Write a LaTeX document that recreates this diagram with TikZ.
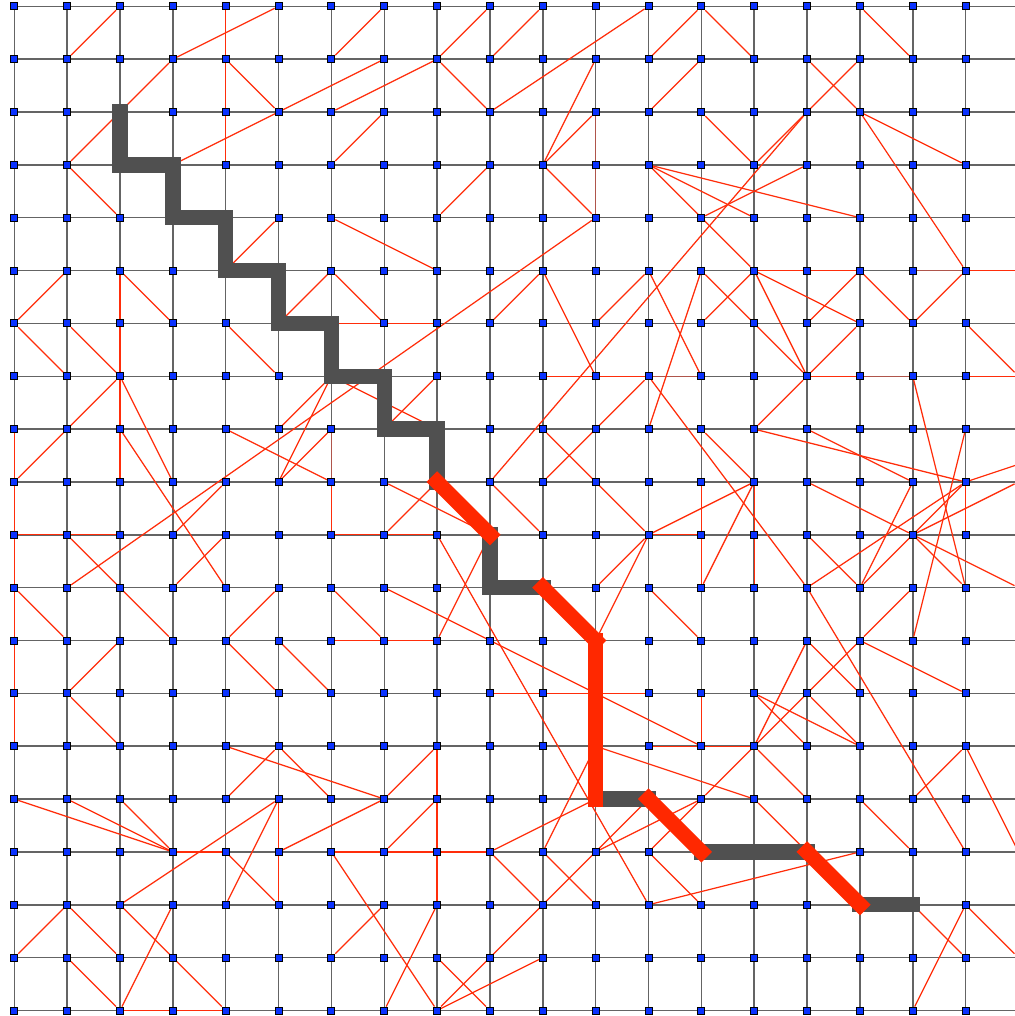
\documentclass[tikz,border=0pt]{standalone}
\definecolor{edgered}{RGB}{255,45,10}
\definecolor{faintred}{RGB}{175,85,75}
\definecolor{pathred}{RGB}{255,40,0}
\definecolor{pathgray}{RGB}{80,80,80}
\definecolor{gridgray}{RGB}{100,100,100}
\definecolor{nodeblue}{RGB}{10,50,255}
\pgfdeclarelayer{back}
\pgfdeclarelayer{edges}
\pgfdeclarelayer{top}
\pgfsetlayers{back,edges,main,top}
\tikzset{
  vtx/.style={rectangle, fill=nodeblue, draw=black, line width=0.45pt, minimum size=3.5pt, inner sep=0pt},
  gridline/.style={draw=gridgray, line width=0.75pt},
  redge/.style={draw=edgered, line width=0.62pt},
  fedge/.style={draw=faintred, line width=0.62pt},
  graypath/.style={draw=pathgray, line width=7.7pt, line cap=rect, line join=miter},
  redpath/.style={draw=pathred, line width=7.5pt, line cap=rect},
}
\begin{document}
\begin{tikzpicture}[x=0.5pt,y=-0.5pt]
\useasboundingbox (0,0) rectangle (1014,1016);
\begin{pgfonlayer}{back}
\fill[white] (0,0) rectangle (1014,1016);
\end{pgfonlayer}
% vertices
\foreach \i in {0,...,19}{
  \foreach \j in {0,...,19}{
    \node[vtx] (n-\i-\j) at ({14.3+52.85*\i},{6.3+52.85*\j}) {};
  }
}
\coordinate (far) at (1124.2,429.1);
\begin{pgfonlayer}{edges}
% grid
\foreach \j in {0,...,19}{
  \foreach \i [evaluate=\i as \ii using int(\i+1)] in {0,...,18}{
    \draw[gridline] (n-\i-\j) -- (n-\ii-\j);
  }
}
\foreach \i in {0,...,19}{
  \foreach \j [evaluate=\j as \jj using int(\j+1)] in {0,...,18}{
    \draw[gridline] (n-\i-\j) -- (n-\i-\jj);
  }
}
% faint edges
\foreach \pa/\pb/\pc/\pd in {11/2/11/4, 17/5/18/5, 16/7/17/7, 12/7/13/7, 6/8/6/9}{
  \draw[fedge] (n-\pa-\pb) -- (n-\pc-\pd);
}
% red edges
\foreach \pa/\pb/\pc/\pd in {
2/0/1/1, 4/0/4/3, 5/0/3/1, 3/1/1/3, 4/1/5/2, 3/3/7/1, 6/2/8/1, 6/1/7/0, 6/3/7/2, 1/3/2/4,
5/4/4/5, 6/4/8/5, 1/5/0/6, 2/5/2/9, 2/5/3/6, 5/6/6/5, 6/5/7/6, 6/6/8/6, 0/6/1/7, 1/6/2/7,
4/6/5/7, 8/1/9/0, 8/1/9/2, 9/1/10/0, 9/2/12/0, 12/1/13/0, 12/2/13/1, 11/1/10/3, 11/2/10/3, 10/3/11/4,
9/3/8/4, 12/3/16/4, 12/3/14/4, 12/3/14/5, 1/11/11/4, 9/6/10/5, 10/5/11/7, 11/6/12/5, 12/5/13/7, 15/2/9/9,
13/0/14/1, 13/2/14/3, 16/1/14/3, 16/0/17/1, 15/1/16/2, 16/2/18/3, 16/2/18/5, 13/4/15/3, 13/5/15/7, 14/5/13/6,
14/5/16/6, 14/5/16/5, 18/5/19/5, 16/5/15/6, 16/5/17/6, 18/5/17/6, 14/5/15/7, 16/6/15/7, 18/6/19/7, 13/5/12/8,
12/7/15/11, 15/7/14/8, 15/7/16/7, 18/7/19/7, 14/8/18/9, 15/8/17/9, 17/7/18/11, 18/8/17/12, 13/8/14/9, 13/9/13/11,
14/9/14/11, 12/10/14/9, 13/11/14/9, 12/10/13/10, 15/9/17/10, 15/11/18/9, 16/11/17/9, 16/11/18/9, 18/9/18/10, 17/10/19/9,
17/10/19/11, 17/10/18/11, 15/10/16/11, 15/11/18/16, 12/11/13/12, 16/12/17/11, 16/12/13/15, 16/12/18/13, 15/12/14/14, 15/12/16/13,
6/7/8/8, 7/8/8/7, 7/9/9/10, 7/10/8/9, 6/10/8/10, 6/9/6/10, 8/10/12/17, 6/11/7/12, 7/11/13/14, 6/12/8/12,
8/12/9/10, 9/9/10/10, 10/8/12/10, 10/9/12/7, 10/7/12/7, 11/11/12/10, 11/12/12/10, 2/7/0/9, 2/7/3/9, 2/8/4/11,
0/8/0/14, 0/10/2/10, 1/10/3/12, 0/11/1/12, 3/10/4/9, 4/8/6/9, 5/9/6/8, 5/9/6/7, 5/8/6/7, 5/11/4/12,
3/11/4/10, 2/12/1/13, 4/12/5/13, 5/12/6/13, 1/13/2/14, 4/14/7/15, 5/14/4/15, 5/14/6/15, 0/15/3/16, 1/15/3/16,
2/15/3/16, 3/16/4/16, 5/15/2/17, 5/15/4/17, 5/15/5/17, 5/16/7/15, 4/16/5/17, 6/16/8/19, 1/17/0/18, 1/17/2/18,
2/17/4/19, 3/17/2/19, 1/18/2/19, 2/19/4/19, 6/18/7/17, 9/13/12/13, 11/14/14/15, 12/14/14/14, 8/14/8/17, 7/15/8/14,
6/16/9/16, 7/16/8/15, 9/16/11/15, 9/16/10/17, 10/16/11/14, 10/16/11/17, 12/15/8/19, 11/16/13/15, 8/19/10/18, 8/18/9/19,
8/17/7/19, 12/17/16/16, 12/16/13/15, 12/16/13/17, 13/13/13/14, 14/13/16/14, 14/13/15/14, 15/13/16/14, 14/14/15/15, 14/15/15/16,
16/15/17/16, 17/15/18/14, 18/14/19/16, 17/17/18/18, 18/17/17/19, 18/17/19/18}{
  \draw[redge] (n-\pa-\pb) -- (n-\pc-\pd);
}
\draw[redge] (n-18-9) -- (far);
\end{pgfonlayer}
% highlighted path
\begin{pgfonlayer}{top}
\draw[graypath] (n-2-2.center) -- (n-2-3.center) -- (n-3-3.center) -- (n-3-4.center) -- (n-4-4.center) -- (n-4-5.center) -- (n-5-5.center) -- (n-5-6.center) -- (n-6-6.center) -- (n-6-7.center) -- (n-7-7.center) -- (n-7-8.center) -- (n-8-8.center) -- (n-8-9.center);
\draw[graypath] (n-9-10.center) -- (n-9-11.center) -- (n-10-11.center);
\draw[graypath] (n-11-15.center) -- (n-12-15.center);
\draw[graypath] (n-13-16.center) -- (n-15-16.center);
\draw[graypath] (n-16-17.center) -- (n-17-17.center);
\draw[redpath] (n-8-9.center) -- (n-9-10.center);
\draw[redpath] (n-10-11.center) -- (n-11-12.center);
\draw[redpath] (n-11-12.center) -- (n-11-15.center);
\draw[redpath] (n-12-15.center) -- (n-13-16.center);
\draw[redpath] (n-15-16.center) -- (n-16-17.center);
\end{pgfonlayer}
\end{tikzpicture}
\end{document}
